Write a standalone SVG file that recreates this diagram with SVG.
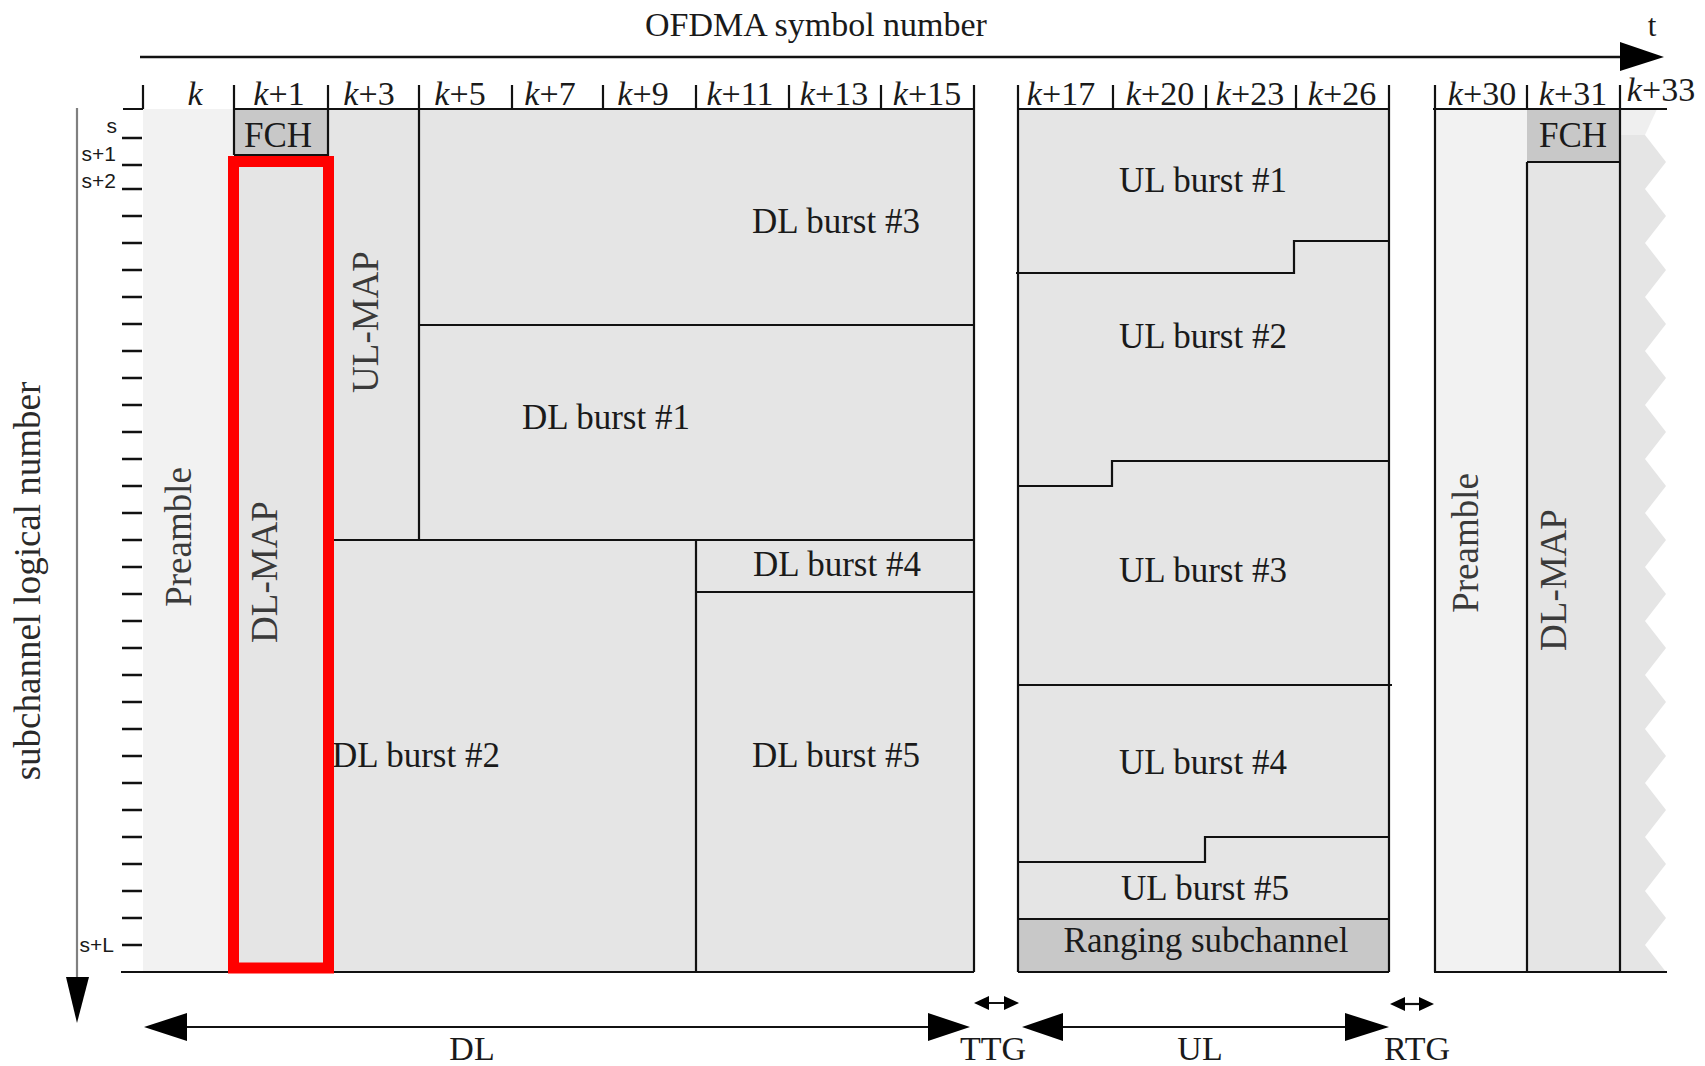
<svg xmlns="http://www.w3.org/2000/svg" width="1705" height="1066" viewBox="0 0 1705 1066">
<style>
text{font-family:"Liberation Serif","Times New Roman",serif;fill:#1a1a1a}
.lbl{font-size:35px;text-anchor:middle}
.hd{font-size:34px;text-anchor:middle}
.rot{font-size:37px;text-anchor:middle;fill:#3a3a3a}
.ax{font-family:"Liberation Sans",Arial,sans-serif;font-size:21px;text-anchor:end}
.ln{stroke:#111;stroke-width:2.2;fill:none}
.tk{stroke:#111;stroke-width:2.5;fill:none}
.lt{fill:#f2f2f2}
.md{fill:#e5e5e5}
.dk{fill:#c8c8c8}
.ah{fill:#000}
</style>
<rect width="1705" height="1066" fill="#fff"/>

<!-- fills -->
<g id="dl-frame">
  <rect class="lt" x="143" y="109" width="91" height="863"/>
  <rect class="md" x="234" y="109" width="740" height="863"/>
</g>
<g id="ul-frame">
  <rect class="md" x="1018" y="109" width="371" height="863"/>
</g>
<g id="next-frame">
  <rect class="lt" x="1435" y="109" width="92" height="863"/>
  <rect class="md" x="1527" y="109" width="93" height="863"/>
  <polygon fill="#efefef" points="1620,109 1657,109 1645,135 1620,135"/>
  <polygon class="md" points="1620,135 1645,135 1666,162 1645,189 1666,216 1645,243 1666,270 1645,297 1666,324 1645,351 1666,378 1645,405 1666,432 1645,459 1666,486 1645,513 1666,540 1645,567 1666,594 1645,621 1666,648 1645,675 1666,702 1645,729 1666,756 1645,783 1666,810 1645,837 1666,864 1645,891 1666,918 1645,945 1666,972 1620,972"/>
</g>

<g id="fch-1"><rect class="dk" x="234" y="109" width="94" height="46"/><text class="lbl" x="278" y="147">FCH</text></g>
<g id="fch-2"><rect class="dk" x="1527" y="109" width="93" height="53"/><text class="lbl" x="1573" y="147">FCH</text></g>
<g id="ranging"><rect class="dk" x="1018" y="919" width="371" height="53"/><text class="lbl" x="1206" y="952">Ranging subchannel</text></g>

<!-- grid lines -->
<g id="lines">
  <path class="ln" d="M143,85V109 M234,85V155 M328,85V972 M419,85V540 M512,85V109 M603,85V109 M696,85V109 M696,540V972 M789,85V109 M881,85V109 M974,85V972"/>
  <path class="ln" d="M123,109H143 M234,109H974 M234,155H328 M419,325H974 M328,540H974 M696,592H974 M121,972H974"/>
  <path class="ln" d="M1018,85V972 M1113,85V109 M1206,85V109 M1296,85V109 M1389,85V972 M1018,109H1389 M1018,972H1389"/>
  <path class="ln" d="M1016,273H1294V241H1389 M1018,486H1112V461H1389 M1018,685H1392 M1018,862H1205V837H1389 M1018,919H1389"/>
  <path class="ln" d="M1435,85V972 M1527,85V109 M1527,162V972 M1620,85V972 M1433,109H1667 M1527,162H1620 M1434,972H1667"/>
</g>

<!-- header labels -->
<g id="header">
  <text class="hd" x="195" y="105" font-style="italic">k</text>
  <text class="hd" x="279" y="105"><tspan font-style="italic">k</tspan>+1</text>
  <text class="hd" x="369" y="105"><tspan font-style="italic">k</tspan>+3</text>
  <text class="hd" x="460" y="105"><tspan font-style="italic">k</tspan>+5</text>
  <text class="hd" x="550" y="105"><tspan font-style="italic">k</tspan>+7</text>
  <text class="hd" x="643" y="105"><tspan font-style="italic">k</tspan>+9</text>
  <text class="hd" x="740" y="105"><tspan font-style="italic">k</tspan>+11</text>
  <text class="hd" x="834" y="105"><tspan font-style="italic">k</tspan>+13</text>
  <text class="hd" x="927" y="105"><tspan font-style="italic">k</tspan>+15</text>
  <text class="hd" x="1061" y="105"><tspan font-style="italic">k</tspan>+17</text>
  <text class="hd" x="1160" y="105"><tspan font-style="italic">k</tspan>+20</text>
  <text class="hd" x="1250" y="105"><tspan font-style="italic">k</tspan>+23</text>
  <text class="hd" x="1342" y="105"><tspan font-style="italic">k</tspan>+26</text>
  <text class="hd" x="1482" y="105"><tspan font-style="italic">k</tspan>+30</text>
  <text class="hd" x="1573" y="105"><tspan font-style="italic">k</tspan>+31</text>
  <text class="hd" x="1661" y="101"><tspan font-style="italic">k</tspan>+33</text>
</g>

<!-- left axis ticks -->
<g id="axis-ticks">
  <path class="tk" d="M122,138H142 M122,165H142 M122,189H142 M122,216H142 M122,243H142 M122,270H142 M122,297H142 M122,324H142 M122,351H142 M122,378H142 M122,405H142 M122,432H142 M122,459H142 M122,486H142 M122,513H142 M122,540H142 M122,567H142 M122,594H142 M122,621H142 M122,648H142 M122,675H142 M122,702H142 M122,729H142 M122,756H142 M122,783H142 M122,810H142 M122,837H142 M122,864H142 M122,891H142 M122,918H142 M122,945H142"/>
  <text class="ax" x="117" y="133">s</text>
  <text class="ax" x="116" y="161">s+1</text>
  <text class="ax" x="116" y="188">s+2</text>
  <text class="ax" x="114" y="952">s+L</text>
</g>

<!-- region labels -->
<g id="preamble-1"><text class="rot" transform="translate(191,537) rotate(-90)">Preamble</text></g>
<g id="dl-map-1"><text class="rot" transform="translate(277,572) rotate(-90)">DL-MAP</text></g>
<g id="ul-map"><text class="rot" transform="translate(378,322) rotate(-90)">UL-MAP</text></g>
<g id="dl-burst-3"><text class="lbl" x="836" y="233">DL burst #3</text></g>
<g id="dl-burst-1"><text class="lbl" x="606" y="429">DL burst #1</text></g>
<g id="dl-burst-4"><text class="lbl" x="837" y="576">DL burst #4</text></g>
<g id="dl-burst-2"><text class="lbl" x="416" y="767">DL burst #2</text></g>
<g id="dl-burst-5"><text class="lbl" x="836" y="767">DL burst #5</text></g>
<g id="ul-burst-1"><text class="lbl" x="1203" y="192">UL burst #1</text></g>
<g id="ul-burst-2"><text class="lbl" x="1203" y="348">UL burst #2</text></g>
<g id="ul-burst-3"><text class="lbl" x="1203" y="582">UL burst #3</text></g>
<g id="ul-burst-4"><text class="lbl" x="1203" y="774">UL burst #4</text></g>
<g id="ul-burst-5"><text class="lbl" x="1205" y="900">UL burst #5</text></g>
<g id="preamble-2"><text class="rot" transform="translate(1478,543) rotate(-90)">Preamble</text></g>
<g id="dl-map-2"><text class="rot" transform="translate(1566,580) rotate(-90)">DL-MAP</text></g>

<!-- highlight -->
<g id="highlight"><rect x="233.5" y="161.5" width="95" height="806.5" fill="none" stroke="#ff0000" stroke-width="11"/></g>

<!-- axes and span arrows -->
<g id="connectors">
  <line x1="140" y1="57" x2="1622" y2="57" stroke="#111" stroke-width="2.5"/>
  <polygon class="ah" points="1620,42 1664,57 1620,71"/>
  <line x1="77" y1="108" x2="77" y2="980" stroke="#808080" stroke-width="2.2"/>
  <polygon class="ah" points="66,977 89,977 77,1023"/>
  <line x1="185" y1="1027" x2="930" y2="1027" stroke="#111" stroke-width="2.2"/>
  <polygon class="ah" points="144,1027 187,1013 187,1041"/>
  <polygon class="ah" points="970,1027 928,1013 928,1041"/>
  <line x1="1061" y1="1027" x2="1347" y2="1027" stroke="#111" stroke-width="2.2"/>
  <polygon class="ah" points="1022,1027 1063,1013 1063,1041"/>
  <polygon class="ah" points="1389,1027 1345,1013 1345,1041"/>
  <line x1="980" y1="1003" x2="1013" y2="1003" stroke="#111" stroke-width="2.2"/>
  <polygon class="ah" points="974,1003 989,996 989,1010"/>
  <polygon class="ah" points="1019,1003 1004,996 1004,1010"/>
  <line x1="1396" y1="1004" x2="1428" y2="1004" stroke="#111" stroke-width="2.2"/>
  <polygon class="ah" points="1390,1004 1405,997 1405,1011"/>
  <polygon class="ah" points="1434,1004 1419,997 1419,1011"/>
</g>

<g id="titles">
  <text class="hd" x="816" y="36">OFDMA symbol number</text>
  <text class="hd" x="1652" y="36" style="font-size:31px">t</text>
  <text class="rot" transform="translate(40,581) rotate(-90)" style="fill:#2a2a2a">subchannel logical number</text>
  <text class="hd" x="472" y="1060">DL</text>
  <text class="hd" x="993" y="1060">TTG</text>
  <text class="hd" x="1200" y="1060">UL</text>
  <text class="hd" x="1417" y="1060">RTG</text>
</g>
</svg>
